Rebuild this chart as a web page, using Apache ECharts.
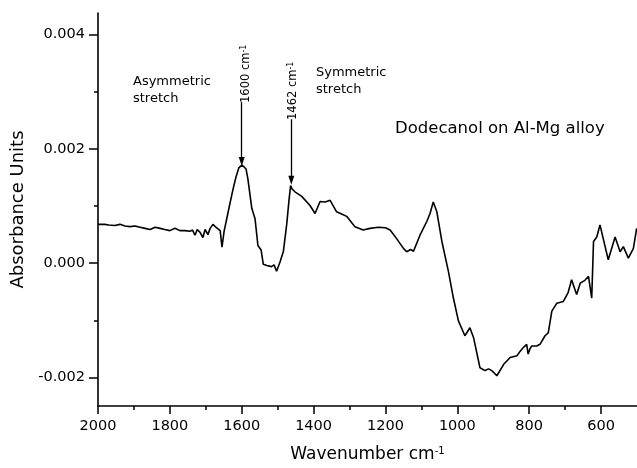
<!DOCTYPE html>
<html>
<head>
<meta charset="utf-8">
<script src="https://cdn.jsdelivr.net/npm/echarts@6/dist/echarts.min.js"></script>
<style>html,body{margin:0;padding:0;background:#fff}#c{width:637px;height:468px}</style>
</head>
<body>
<div id="c"></div>
<script>
// Wavenumber (cm^-1)
const wavenumber = [2000,1981,1970,1953,1939,1925,1911,1897,1883,1869,1855,1841,1827,1814,1800,1786,1772,1758,1744,1737,1730,1724,1716,1708,1702,1694,1688,1680,1672,1666,1660,1655,1649,1641,1633,1624,1616,1608,1599,1588,1583,1572,1563,1555,1546,1540,1530,1517,1510,1503,1493,1484,1475,1468,1464,1460,1452,1433,1410,1396,1382,1368,1354,1336,1322,1308,1285,1262,1243,1220,1215,1200,1187,1169,1150,1141,1130,1122,1104,1085,1076,1067,1057,1043,1025,1011,997,979,965,955,937,923,913,904,890,871,853,834,825,817,807,803,798,793,779,770,756,747,737,723,705,692,682,668,658,645,635,626,621,612,603,594,580,561,547,538,524,510,501];
// Absorbance units
const absorbance = [0.00068,0.00068,0.00067,0.00066,0.00068,0.00065,0.00064,0.00065,0.00063,0.00061,0.00059,0.00063,0.00061,0.00059,0.00057,0.00061,0.00057,0.00057,0.00056,0.00058,0.00049,0.00059,0.00054,0.00045,0.00059,0.00050,0.00061,0.00068,0.00063,0.00060,0.00057,0.00028,0.00056,0.00080,0.00104,0.00130,0.00151,0.00167,0.00172,0.00165,0.00148,0.00096,0.00078,0.00031,0.00023,-0.00002,-0.00004,-0.00006,-0.00003,-0.00014,0.00003,0.00021,0.00067,0.00113,0.00136,0.00130,0.00125,0.00117,0.00101,0.00087,0.00108,0.00107,0.00110,0.00090,0.00086,0.00082,0.00064,0.00058,0.00061,0.00063,0.00064,0.00062,0.00058,0.00043,0.00026,0.00020,0.00024,0.00021,0.00049,0.00073,0.00087,0.00107,0.00090,0.00038,-0.00014,-0.00061,-0.00101,-0.00127,-0.00113,-0.00130,-0.00183,-0.00188,-0.00185,-0.00188,-0.00197,-0.00177,-0.00165,-0.00162,-0.00154,-0.00148,-0.00142,-0.00159,-0.00150,-0.00145,-0.00145,-0.00142,-0.00127,-0.00122,-0.00084,-0.00070,-0.00067,-0.00052,-0.00029,-0.00055,-0.00035,-0.00030,-0.00023,-0.00061,0.00038,0.00046,0.00067,0.00043,0.00006,0.00046,0.00020,0.00029,0.00009,0.00026,0.00061];
// Tick values
const xMajorTicks = [600,800,1000,1200,1400,1600,1800,2000];
const xMinorTicks = [700,900,1100,1300,1500,1700,1900];
const yMajorTicks = [-0.002,0,0.002,0.004];
const yMinorTicks = [-0.001,0.001,0.003];
// Peak annotations: [wavenumber, arrow start, arrow end]
const peakArrows = [[1600,0.00282,0.00178],[1462,0.00252,0.00145]];

const FONT = 'DejaVu Sans';
const data = wavenumber.map((w,i)=>[w,absorbance[i]]);
const chart = echarts.init(document.getElementById('c'));
const xBase = {type:'value',inverse:true,min:500,max:2000,position:'bottom',splitLine:{show:false}};
const yBase = {type:'value',min:-0.0025,max:0.00438,position:'left',splitLine:{show:false}};
chart.setOption({
  animation:false,
  backgroundColor:'#fff',
  grid:{left:98,right:0,top:13,bottom:59,containLabel:false},
  xAxis:[
    Object.assign({},xBase,{
      axisLine:{show:true,onZero:false,lineStyle:{color:'#000',width:1.6}},
      axisTick:{show:true,customValues:xMajorTicks,length:8,lineStyle:{color:'#000',width:1.5}},
      axisLabel:{customValues:xMajorTicks,margin:13,fontSize:14.5,color:'#000',fontFamily:FONT,formatter:v=>String(Math.round(v))},
      name:'{a|Wavenumber cm}{b|-1}',nameLocation:'middle',nameGap:40,
      nameTextStyle:{fontFamily:FONT,color:'#000',rich:{a:{fontSize:17,fontFamily:FONT,color:'#000',verticalAlign:'bottom'},b:{fontSize:10,fontFamily:FONT,color:'#000',verticalAlign:'top'}}}
    }),
    Object.assign({},xBase,{
      axisLine:{show:false,onZero:false},
      axisTick:{show:true,customValues:xMinorTicks,length:4,lineStyle:{color:'#000',width:1.5}},
      axisLabel:{show:false}
    })
  ],
  yAxis:[
    Object.assign({},yBase,{
      axisLine:{show:true,onZero:false,lineStyle:{color:'#000',width:1.6}},
      axisTick:{show:true,customValues:yMajorTicks,length:9,lineStyle:{color:'#000',width:1.5}},
      axisLabel:{customValues:yMajorTicks,margin:13,fontSize:14.5,color:'#000',fontFamily:FONT,formatter:v=>Number(v).toFixed(3)},
      name:'Absorbance Units',nameLocation:'middle',nameGap:71,nameRotate:90,
      nameTextStyle:{fontSize:18,fontFamily:FONT,color:'#000'}
    }),
    Object.assign({},yBase,{
      axisLine:{show:false,onZero:false},
      axisTick:{show:true,customValues:yMinorTicks,length:4,lineStyle:{color:'#000',width:1.5}},
      axisLabel:{show:false}
    })
  ],
  series:[{
    type:'line',data:data,showSymbol:false,symbol:'none',
    lineStyle:{color:'#000',width:1.6},
    markLine:{
      silent:true,symbol:['none','triangle'],symbolSize:[6,9],symbolRotate:180,
      label:{show:false},
      lineStyle:{color:'#000',width:1.3,type:'solid'},
      data:peakArrows.map(p=>[{coord:[p[0],p[1]]},{coord:[p[0],p[2]]}])
    }
  }],
  graphic:[
    {type:'text',left:133,top:73,style:{text:'Asymmetric\nstretch',font:'13px "DejaVu Sans"',fill:'#000',lineHeight:17}},
    {type:'text',left:316,top:64,style:{text:'Symmetric\nstretch',font:'13px "DejaVu Sans"',fill:'#000',lineHeight:17}},
    {type:'text',left:395,top:120,style:{text:'Dodecanol on Al-Mg alloy',font:'16.5px "DejaVu Sans"',fill:'#000'}},
    {type:'text',x:246,y:103,rotation:Math.PI/2,style:{text:'{a|1600 cm}{b|-1}',align:'left',verticalAlign:'middle',fill:'#000',rich:{a:{fontSize:11.5,fontFamily:FONT,fill:'#000',verticalAlign:'bottom'},b:{fontSize:8,fontFamily:FONT,fill:'#000',verticalAlign:'top'}}}},
    {type:'text',x:293,y:120,rotation:Math.PI/2,style:{text:'{a|1462 cm}{b|-1}',align:'left',verticalAlign:'middle',fill:'#000',rich:{a:{fontSize:11.5,fontFamily:FONT,fill:'#000',verticalAlign:'bottom'},b:{fontSize:8,fontFamily:FONT,fill:'#000',verticalAlign:'top'}}}}
  ]
});
</script>
</body>
</html>
